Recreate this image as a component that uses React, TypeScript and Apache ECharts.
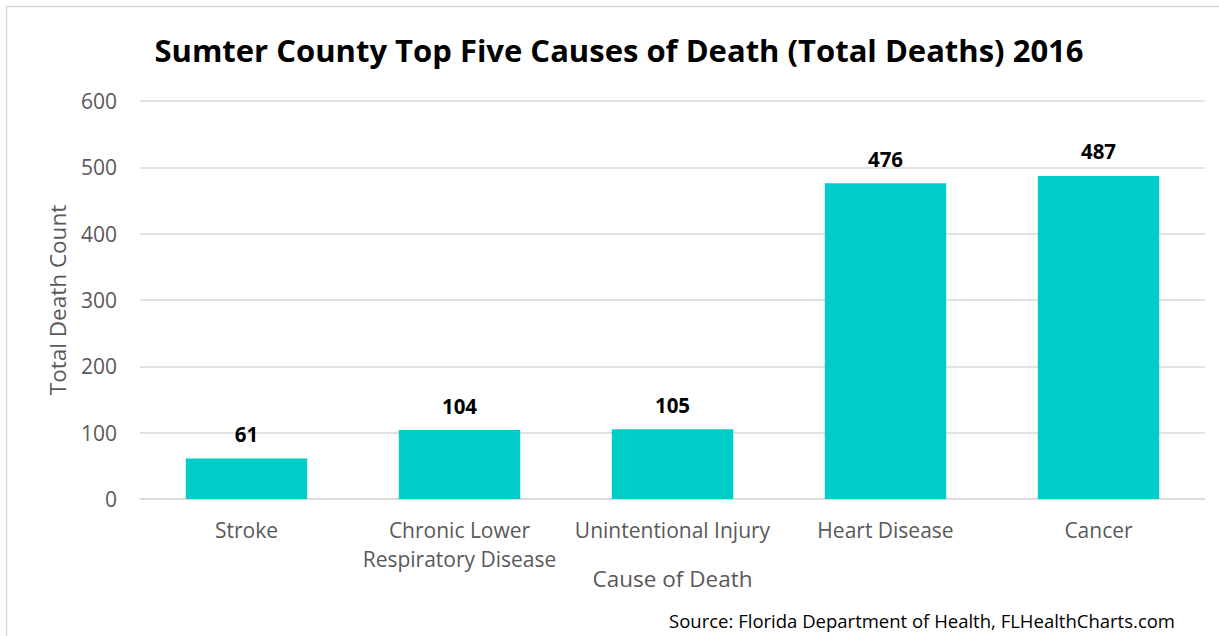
import React, { useEffect, useRef } from "react";
import * as echarts from "echarts";

const categories = [
  "Stroke",
  "Chronic Lower\nRespiratory Disease",
  "Unintentional Injury",
  "Heart Disease",
  "Cancer",
];
const deaths = [61, 104, 105, 476, 487];
const yTicks = { min: 0, max: 600, interval: 100 };

const FONT = "'Open Sans', Lato, sans-serif";

export default function App() {
  const ref = useRef<HTMLDivElement>(null);
  useEffect(() => {
    if (!ref.current) return;
    const chart = echarts.init(ref.current, undefined, { renderer: "svg" });
    chart.setOption({
      animation: false,
      backgroundColor: "#ffffff",
      textStyle: { fontFamily: FONT },
      title: {
        text: "Sumter County Top Five Causes of Death (Total Deaths) 2016",
        left: 614,
        textAlign: "center",
        top: 29,
        textStyle: { fontFamily: FONT, fontSize: 31, fontWeight: "bold", color: "#000000" },
      },
      graphic: [
        {
          type: "rect",
          shape: { x: 6.5, y: 6.5, width: 1220, height: 700 },
          style: { fill: "none", stroke: "#d9d9d9", lineWidth: 1.5 },
          silent: true,
        },
        {
          type: "text",
          right: 44,
          top: 611,
          style: {
            text: "Source: Florida Department of Health, FLHealthCharts.com",
            fontFamily: FONT,
            fontSize: 18.5,
            fill: "#000000",
          },
        },
      ],
      grid: { left: 140, right: 14, top: 101, bottom: 137, containLabel: false },
      xAxis: {
        type: "category",
        data: categories,
        name: "Cause of Death",
        nameLocation: "middle",
        nameGap: 68,
        nameMoveOverlap: false,
        nameTextStyle: { fontFamily: FONT, fontSize: 22.5, color: "#595959" },
        axisLine: { show: true, lineStyle: { color: "#d9d9d9", width: 1.5 } },
        axisTick: { show: false },
        axisLabel: {
          fontFamily: FONT,
          fontSize: 21,
          color: "#595959",
          margin: 16,
          lineHeight: 29,
          interval: 0,
        },
      },
      yAxis: {
        type: "value",
        min: yTicks.min,
        max: yTicks.max,
        interval: yTicks.interval,
        name: "Total Death Count",
        nameLocation: "middle",
        nameGap: 71,
        nameMoveOverlap: false,
        nameTextStyle: { fontFamily: FONT, fontSize: 22.5, color: "#595959" },
        axisLine: { show: false },
        axisTick: { show: false },
        axisLabel: { fontFamily: FONT, fontSize: 21, color: "#595959", margin: 23 },
        splitLine: { lineStyle: { color: "#d9d9d9", width: 1.5 } },
      },
      series: [
        {
          type: "bar",
          data: deaths,
          barWidth: "57%",
          itemStyle: { color: "#00CCC8" },
          label: {
            show: true,
            position: "top",
            distance: 14,
            fontFamily: FONT,
            fontSize: 20.5,
            fontWeight: "bold",
            color: "#000000",
          },
        },
      ],
    });
    return () => chart.dispose();
  }, []);
  return (
    <div
      ref={ref}
      style={{ position: "absolute", left: 0, top: 0, width: 1219, height: 636 }}
    />
  );
}
